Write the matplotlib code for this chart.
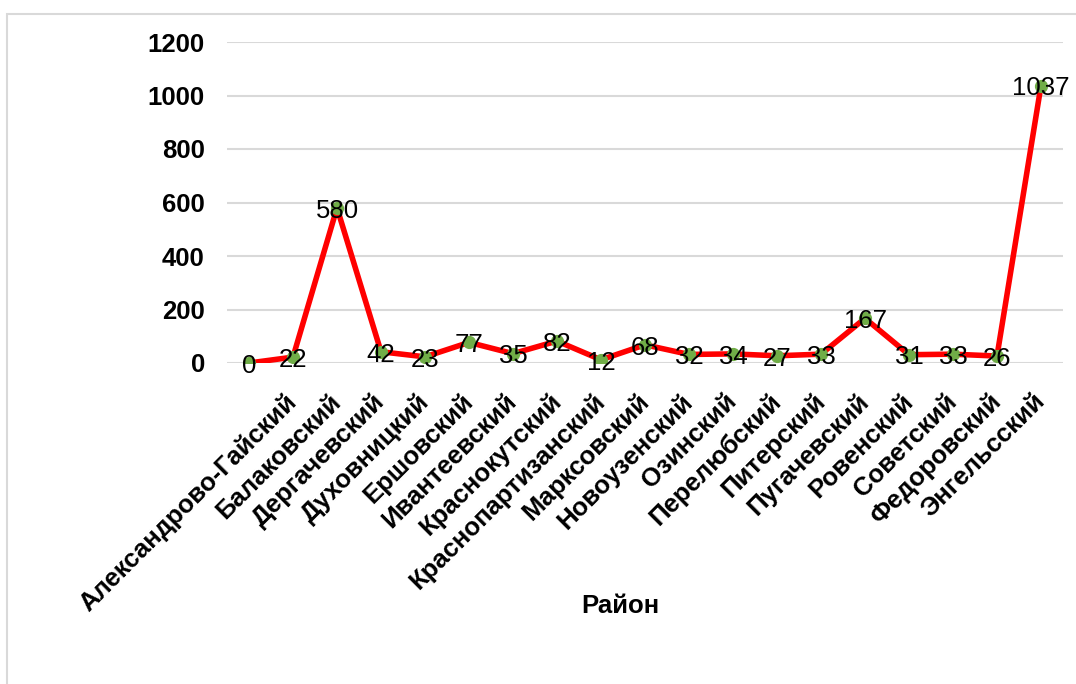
import matplotlib.pyplot as plt
from matplotlib.patches import Rectangle

plt.rcParams['font.family'] = ['Liberation Sans', 'DejaVu Sans']

# first category has no name in the source table
districts = ['', 'Александрово-Гайский', 'Балаковский', 'Дергачевский', 'Духовницкий',
             'Ершовский', 'Ивантеевский', 'Краснокутский', 'Краснопартизанский',
             'Марксовский', 'Новоузенский', 'Озинский', 'Перелюбский', 'Питерский',
             'Пугачевский', 'Ровенский', 'Советский', 'Федоровский', 'Энгельсский']
counts = [0, 22, 580, 42, 23, 77, 35, 82, 12, 68, 32, 34, 27, 33, 167, 31, 33, 26, 1037]
y_ticks = [0, 200, 400, 600, 800, 1000, 1200]

fs = 18.5
fig = plt.figure(figsize=(10.76, 6.84), dpi=100)
ax = fig.add_axes([227 / 1076, 1 - 363 / 684, (1063 - 227) / 1076, (363 - 42) / 684])

x = list(range(len(districts)))
ax.plot(x, counts, color='#ff0000', linewidth=4, zorder=3,
        marker='o', markersize=8.5, markerfacecolor='#70ad47', markeredgecolor='#70ad47')

for xi, v in zip(x, counts):
    ax.annotate(str(v), (xi, v), xytext=(0, -2), textcoords='offset points',
                ha='center', va='center', fontsize=fs, color='black', zorder=4)

ax.set_xlim(-0.5, len(districts) - 0.5)
ax.set_ylim(0, 1200)
ax.set_yticks(y_ticks)
ax.set_yticklabels([str(t) for t in y_ticks], fontsize=fs, fontweight='bold')
ax.set_xticks(x)
ax.set_xticklabels(districts, fontsize=fs, fontweight='bold', rotation=45,
                   ha='right', va='center', rotation_mode='anchor')
ax.tick_params(axis='y', length=0, pad=16)
ax.tick_params(axis='x', length=0, pad=25)

ax.grid(axis='y', color='#d9d9d9', linewidth=1.5, zorder=0)
for s in ax.spines.values():
    s.set_visible(False)
ax.set_axisbelow(True)

ax.set_xlabel('Район', fontsize=fs, fontweight='bold')
ax.xaxis.set_label_coords((620 - 227) / (1063 - 227), -(594 - 363) / (363 - 42))

# light frame around the chart area
fig.patches.append(Rectangle((7 / 1076, -0.1), 1.2, 1 - 14 / 684 + 0.1,
                             transform=fig.transFigure, fill=False,
                             edgecolor='#d9d9d9', linewidth=1.5))

fig.savefig('out.png', dpi=100)
